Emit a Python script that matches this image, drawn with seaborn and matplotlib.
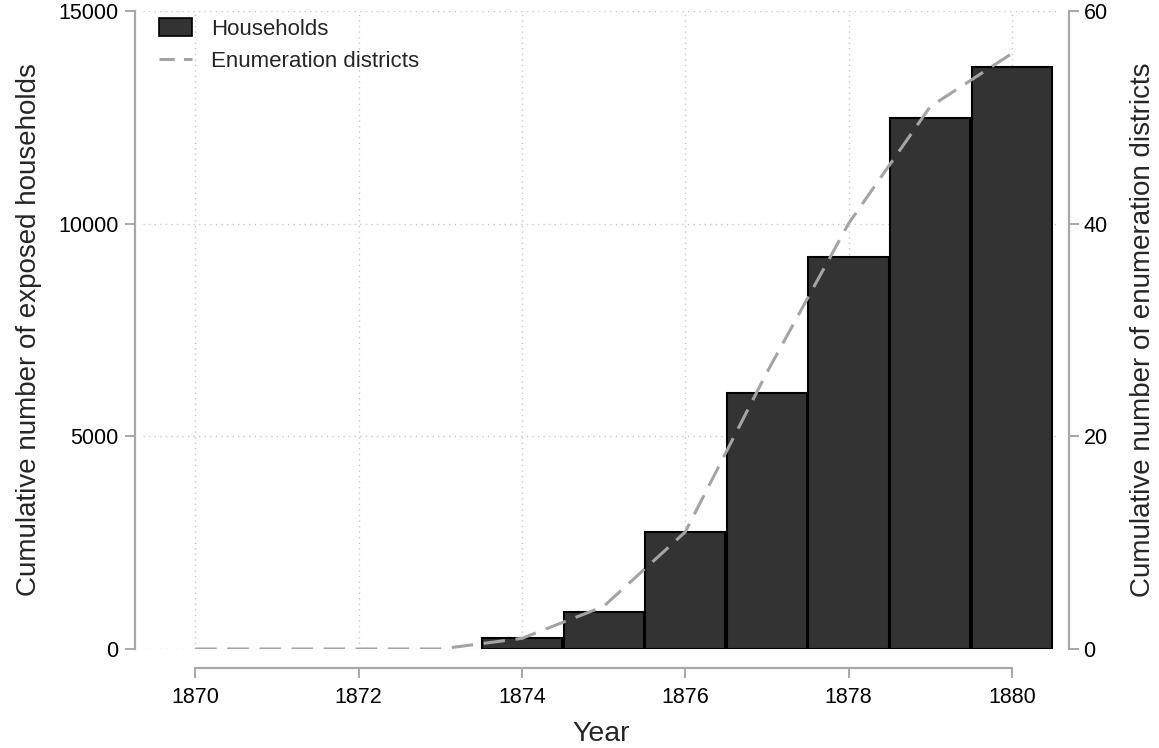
import matplotlib
matplotlib.use("Agg")
import matplotlib.pyplot as plt
import seaborn as sns
import numpy as np
import pandas as pd
from matplotlib.patches import Patch
from matplotlib.lines import Line2D

# ---- data ----
bar_years = [1874, 1875, 1876, 1877, 1878, 1879, 1880]
households = [255, 865, 2755, 6020, 9210, 12495, 13685]

line_years = [1870, 1871, 1872, 1873, 1874, 1875, 1876, 1877, 1878, 1879, 1880]
districts = [0, 0, 0, 0, 1, 4, 11, 26, 40, 51, 56]

x_ticks = [1870, 1872, 1874, 1876, 1878, 1880]
left_ticks = [0, 5000, 10000, 15000]
right_ticks = [0, 20, 40, 60]

sns.set_style("white")
plt.rcParams['font.family'] = ['Liberation Sans', 'DejaVu Sans']

W, H = 1159, 748
fig = plt.figure(figsize=(W / 100, H / 100), dpi=100)
left_px, right_px, top_px, bottom_px = 143, 1060, 11, 649
ax = fig.add_axes([left_px / W, (H - bottom_px) / H,
                   (right_px - left_px) / W, (bottom_px - top_px) / H])

spine_col = "#A8A8A8"
grid_col = "#C8C8C8"
bar_col = "#333333"
line_col = "#A4A4A4"

df_bar = pd.DataFrame({"Year": bar_years, "Households": households})
sns.barplot(data=df_bar, x="Year", y="Households", native_scale=True,
            width=0.98, color=bar_col, saturation=1, edgecolor="black",
            linewidth=1.5, errorbar=None, ax=ax, zorder=3)

ax.set_xlim(1869.36, 1880.59)
ax.set_ylim(0, 15000)
ax.set_xticks(x_ticks)
ax.set_yticks(left_ticks)
ax.set_xticklabels([str(t) for t in x_ticks])
ax.set_yticklabels([str(t) for t in left_ticks])

ax.grid(True, color=grid_col, linestyle=(0, (1, 3)), linewidth=1.0, zorder=0)
ax.set_axisbelow(True)

for s in ["top", "right"]:
    ax.spines[s].set_visible(False)
ax.spines["left"].set_position(("outward", 6))
ax.spines["bottom"].set_position(("outward", 14))
ax.spines["left"].set_bounds(0, 15000)
ax.spines["bottom"].set_bounds(1870, 1880)
for s in ["left", "bottom"]:
    ax.spines[s].set_color(spine_col)
    ax.spines[s].set_linewidth(1.6)

ax.tick_params(axis="both", which="major", direction="out", length=7.5,
               width=1.4, color=spine_col, labelsize=15.5, labelcolor="black")
ax.tick_params(axis="y", pad=4, left=True)
ax.tick_params(axis="x", pad=6, bottom=True)

ax.set_xlabel("Year", fontsize=20.5, labelpad=9)
ax.set_ylabel("Cumulative number of exposed households", fontsize=20, labelpad=12)

ax2 = ax.twinx()
df_line = pd.DataFrame({"Year": line_years, "Districts": districts})
sns.lineplot(data=df_line, x="Year", y="Districts", ax=ax2, color=line_col,
             linewidth=2.2, linestyle=(0, (7, 3.5)))
ax2.set_ylim(0, 60)
ax2.set_yticks(right_ticks)
ax2.set_yticklabels([str(t) for t in right_ticks])
ax2.set_xlim(1869.36, 1880.59)
ax2.grid(False)
for s in ["top", "left", "bottom"]:
    ax2.spines[s].set_visible(False)
ax2.spines["right"].set_position(("outward", 6.5))
ax2.spines["right"].set_bounds(0, 60)
ax2.spines["right"].set_color(spine_col)
ax2.spines["right"].set_linewidth(1.6)
ax2.tick_params(axis="y", which="major", direction="out", length=7.5,
                width=1.4, color=spine_col, labelsize=15.5, labelcolor="black",
                pad=3, right=True)
ax2.set_ylabel("Cumulative number of enumeration districts", fontsize=20,
               labelpad=16)

handles = [Patch(facecolor=bar_col, edgecolor="black", linewidth=1.2),
           Line2D([0], [0], color=line_col, linewidth=2.2, linestyle=(0, (5, 3)))]
leg = ax2.legend(handles, ["Households", "Enumeration districts"],
                 loc="upper left", bbox_to_anchor=(0.0, 1.013), frameon=False,
                 fontsize=16, handlelength=1.5, handleheight=0.85,
                 labelspacing=0.5, handletextpad=0.85, borderaxespad=0.3)

fig.savefig("out.png", dpi=100)
